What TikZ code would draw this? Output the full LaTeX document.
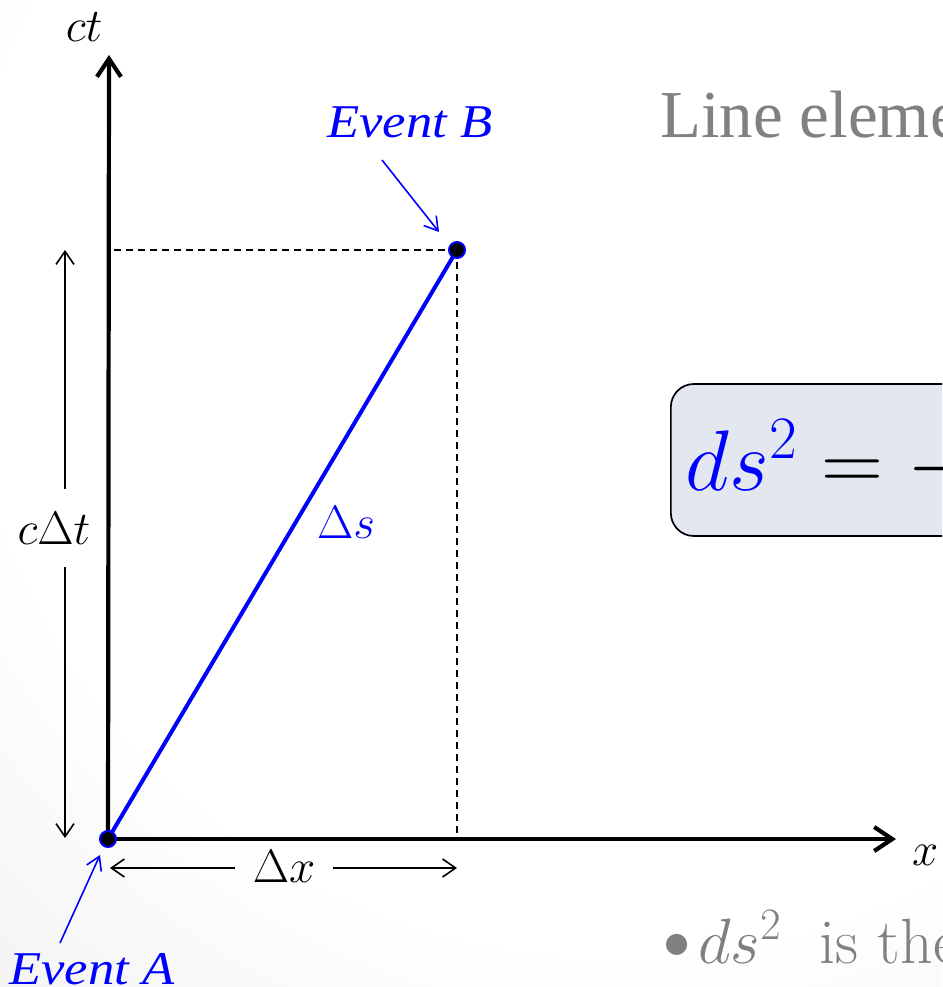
\RequirePackage{fix-cm}
\documentclass[tikz,border=0pt]{standalone}
\usepackage{fontspec}
\usetikzlibrary{arrows.meta}
\newfontfamily\libserif{Liberation Serif}
\definecolor{boxfill}{HTML}{E3E8F0}
\definecolor{txtgray}{HTML}{808080}
\pgfdeclareradialshading{bgshade}{\pgfpoint{0bp}{0bp}}{color(0bp)=(white); color(9bp)=(white); color(25bp)=(black!18); color(50bp)=(black!18)}
\tikzset{
  axis/.style={line width=4.2pt, -{Straight Barb[length=18pt,width=24pt]}},
  dashline/.style={line width=1.8pt, dash pattern=on 7pt off 5pt},
  blueline/.style={blue, line width=4pt},
  evdot/.style={circle, fill=black, draw=blue, line width=2pt, minimum size=16pt, inner sep=0pt},
  dimarrow/.style={line width=1.6pt, -{Straight Barb[length=13pt,width=18pt]}},
  evarrow/.style={blue, line width=1.6pt, -{Straight Barb[length=13pt,width=16pt]}},
  mathlbl/.style={font=\fontsize{47}{56}\selectfont, inner sep=0pt},
  evlbl/.style={font=\libserif\itshape\fontsize{47}{56}\selectfont, text=blue, xscale=1.12, inner sep=0pt},
}
\begin{document}
\begin{tikzpicture}[x=1pt,y=-1pt]
\useasboundingbox (0,0) rectangle (942,987);
\clip (0,0) rectangle (942,987);
\shade[shading=bgshade] (620,300) ++(-1800,-1800) rectangle ++(3600,3600);

% coordinates
\coordinate (O) at (108,839);
\coordinate (ytip) at (109,55);
\coordinate (xtip) at (896,839);
\coordinate (Bpt) at (457,250);
\coordinate (ctop) at (65,250);
\coordinate (cbot) at (65,838);
\coordinate (xl) at (110,868);
\coordinate (xr) at (457,868);

% dashed guides
\draw[dashline] (Bpt) -- (Bpt -| ytip);
\draw[dashline] (Bpt) -- (Bpt |- O);

% axes
\draw[axis] (O) -- (ytip);
\draw[axis] (O) -- (xtip);

% world line
\draw[blueline] (O) -- (Bpt);
\node[evdot] (A) at (O) {};
\node[evdot] (B) at (Bpt) {};

% axis labels
\node[mathlbl, anchor=base] (ctl) at (84,42) {$ct$};
\node[mathlbl, anchor=base west] (xlab) at (912,865) {$x$};

% c Delta t dimension
\node[mathlbl, minimum height=77pt] (cdt) at (54,528) {$c\Delta t$};
\draw[dimarrow] (cdt.north -| ctop) -- (ctop);
\draw[dimarrow] (cdt.south -| cbot) -- (cbot);

% Delta x dimension
\node[mathlbl, minimum width=98pt, anchor=base] (dx) at (284,882) {$\Delta x$};
\draw[dimarrow] (dx.west |- xl) -- (xl);
\draw[dimarrow] (dx.east |- xr) -- (xr);

% Delta s
\node[mathlbl, anchor=base, text=blue] (ds) at (346,538) {$\Delta s$};

% events
\node[evlbl, anchor=base] (evB) at (410,138) {Event B};
\coordinate (evBs) at (382,160);
\coordinate (evBe) at (439,232);
\draw[evarrow] (evBs) -- (evBe);
\node[evlbl, anchor=base] (evA) at (92,984) {Event A};
\coordinate (evAs) at (60,943);
\coordinate (evAe) at (100,855);
\draw[evarrow] (evAs) -- (evAe);

% title
\node[anchor=base west, inner sep=0pt, text=txtgray, font=\libserif\fontsize{67}{80}\selectfont] (title) at (660,138) {Line element};

% equation box
\node[anchor=west, draw=black, line width=1.7pt, fill=boxfill, rounded corners=23pt,
      minimum height=152pt, inner xsep=15pt, text height=75pt, text depth=15pt,
      font=\fontsize{86}{100}\selectfont] (eqbox) at (670,460)
  {$\color{blue}ds^2\color{black} = -c^2dt^2 + dx^2 + dy^2 + dz^2$};

% bullet line
\node[anchor=base west, inner sep=0pt, text=txtgray, font=\fontsize{64}{76}\selectfont] (bul) at (663,963)
  {\raisebox{0.15ex}{\scalebox{0.85}{$\bullet$}}\hspace{0.12em}$ds^2$\hspace{0.6em}is the line element};
\end{tikzpicture}
\end{document}
